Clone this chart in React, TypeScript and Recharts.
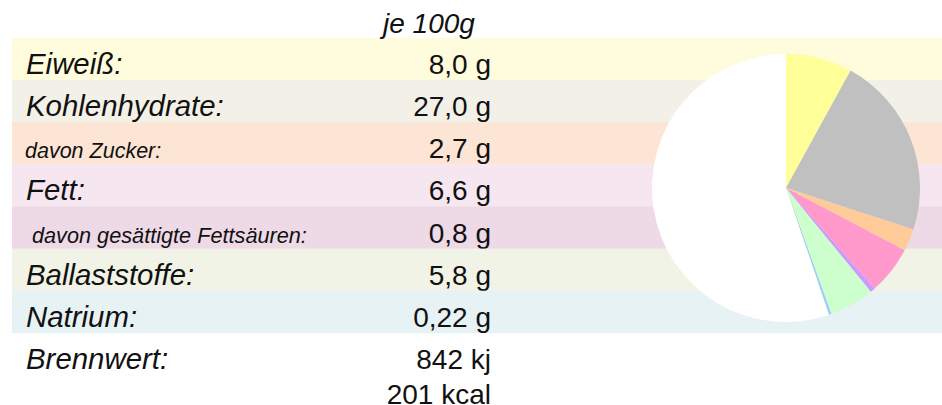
import { BarChart, Bar, XAxis, YAxis, PieChart, Pie, Cell } from "recharts"

const nutrients = [
  "Eiweiß:",
  "Kohlenhydrate:",
  "davon Zucker:",
  "Fett:",
  "davon gesättigte Fettsäuren:",
  "Ballaststoffe:",
  "Natrium:",
  "Brennwert:",
]
const amounts = [["8,0 g"], ["27,0 g"], ["2,7 g"], ["6,6 g"], ["0,8 g"], ["5,8 g"], ["0,22 g"], ["842 kj", "201 kcal"]]
const header = "je 100g"

// pie slices (protein, carbs w/o sugar, sugar, fat w/o sat., sat., fibre, sodium, rest)
const pieSlices = [8.0, 22.0, 2.7, 5.8, 0.6, 5.4, 0.3, 55.2]

const rowColors = ["#FEFCDD", "#F3F1E7", "#FCE5D4", "#F5E6F0", "#EED9E6", "#F0F3E6", "#E6F2F4", "transparent"]
const labelSizes = [29.4, 29.4, 21.5, 29.4, 21.7, 29.4, 29.4, 29.4]
const labelX = [26, 26, 25, 26, 32, 26, 26, 26]
const sliceColors = ["#FFFF99", "#C0C0C0", "#FFCC99", "#FF99CC", "#CC99FF", "#CCFFCC", "#99CCFF", "#FFFFFF"]

const FONT = '"Liberation Sans", Arial, Helvetica, sans-serif'
const W = 942
const H = 405

const rows = nutrients.map((name, i) => ({ name, band: 1, lines: amounts[i] }))
const pieData = pieSlices.map((value, i) => ({ name: `s${i}`, value }))

function RowShape(props: any) {
  const { x, y, width, height, index, payload } = props
  return (
    <g>
      <rect x={x} y={y} width={width} height={height + 0.5} fill={rowColors[index]} />
      <text x={labelX[index]} y={y + 36} fontSize={labelSizes[index]} fontStyle="italic" fontFamily={FONT} fill="#111">
        {payload.name}
      </text>
      {payload.lines.map((line: string, k: number) => (
        <text key={k} x={491} y={y + 36 + k * 35} fontSize={28} textAnchor="end" fontFamily={FONT} fill="#111">
          {line}
        </text>
      ))}
    </g>
  )
}

export default function App() {
  return (
    <div style={{ position: "absolute", left: 0, top: 0, width: W, height: H, background: "#fff" }}>
      <div style={{ position: "absolute", left: 0, top: 0 }}>
        <BarChart
          width={W}
          height={H}
          data={rows}
          layout="vertical"
          barCategoryGap={0}
          margin={{ top: 38, right: 0, bottom: 30, left: 12 }}
        >
          <XAxis type="number" domain={[0, 1]} hide />
          <YAxis type="category" dataKey="name" hide width={0} />
          <Bar dataKey="band" isAnimationActive={false} shape={RowShape} />
        </BarChart>
      </div>
      <svg width={W} height={40} style={{ position: "absolute", left: 0, top: 0 }}>
        <text x={383} y={33} fontSize={28} fontStyle="italic" fontFamily={FONT} fill="#111">
          {header}
        </text>
      </svg>
      <div style={{ position: "absolute", left: 0, top: 0 }}>
        <PieChart width={W} height={H} margin={{ top: 0, right: 0, bottom: 0, left: 0 }}>
          <Pie
            data={pieData}
            dataKey="value"
            cx={786}
            cy={188}
            outerRadius={134}
            startAngle={90}
            endAngle={-270}
            stroke="none"
            isAnimationActive={false}
          >
            {pieData.map((d, i) => (
              <Cell key={d.name} fill={sliceColors[i]} />
            ))}
          </Pie>
        </PieChart>
      </div>
    </div>
  )
}
